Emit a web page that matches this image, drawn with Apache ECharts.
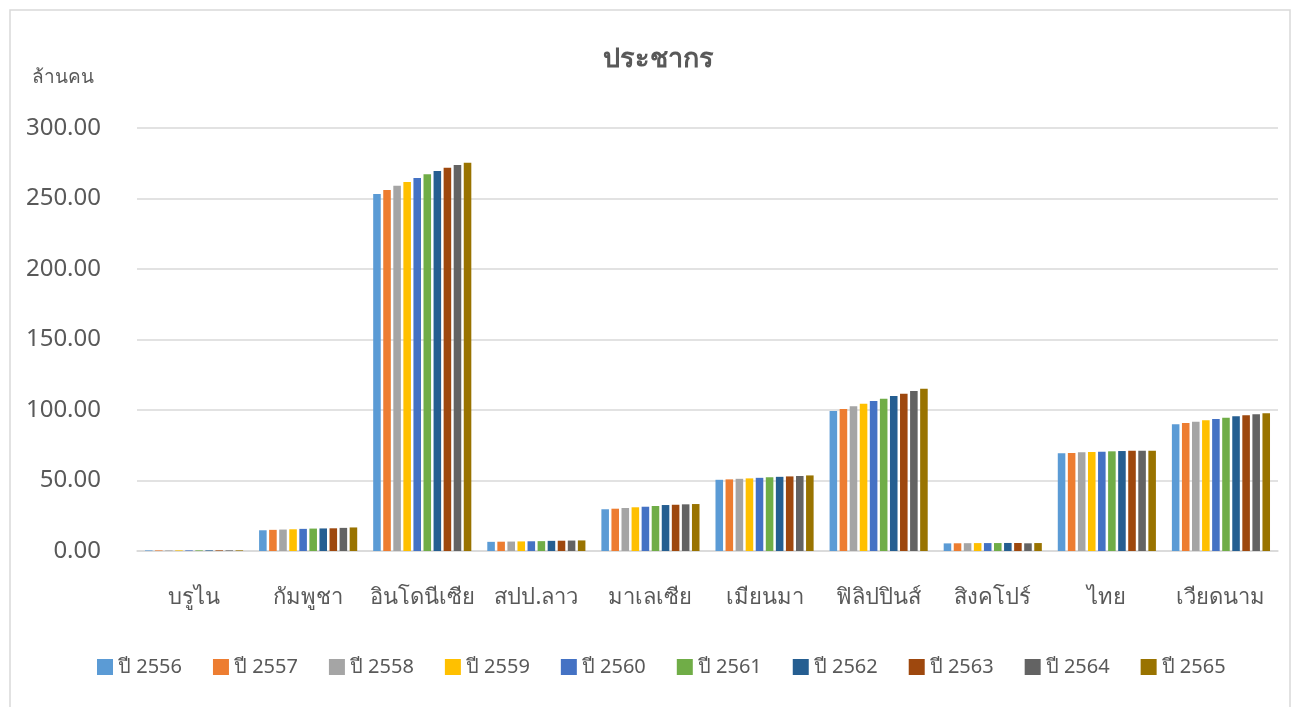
<!DOCTYPE html>
<html>
<head>
<meta charset="utf-8">
<title>ประชากร</title>
<script src="https://cdn.jsdelivr.net/npm/echarts@6/dist/echarts.min.js"></script>
<style>
    html, body {
        margin: 0;
        padding: 0;
        background: #fff;
    }
    #chart {
        width: 1296px;
        height: 707px;
    }
</style>
</head>
<body>
<div id="chart"></div>
<script>
// ประเทศ (หมวดแกน x)
var countries = ['บรูไน', 'กัมพูชา', 'อินโดนีเซีย', 'สปป.ลาว', 'มาเลเซีย', 'เมียนมา', 'ฟิลิปปินส์', 'สิงคโปร์', 'ไทย', 'เวียดนาม'];
var years = ['ปี 2556', 'ปี 2557', 'ปี 2558', 'ปี 2559', 'ปี 2560', 'ปี 2561', 'ปี 2562', 'ปี 2563', 'ปี 2564', 'ปี 2565'];

// ล้านคน, ค่าของแต่ละประเทศเรียงตามปี
var brunei      = [0.41, 0.41, 0.42, 0.42, 0.43, 0.43, 0.44, 0.45, 0.43, 0.44];
var cambodia    = [14.7, 15.0, 15.2, 15.4, 15.7, 15.9, 16.0, 16.1, 16.4, 16.7];
var indonesia   = [253.2, 256.0, 259.1, 261.7, 264.5, 267.2, 269.5, 271.8, 273.8, 275.4];
var laos        = [6.5, 6.6, 6.7, 6.8, 6.9, 7.0, 7.2, 7.3, 7.4, 7.5];
var malaysia    = [29.6, 30.0, 30.5, 31.0, 31.4, 31.9, 32.6, 32.8, 33.1, 33.3];
var myanmar     = [50.5, 50.8, 51.2, 51.5, 51.9, 52.3, 52.6, 52.9, 53.2, 53.6];
var philippines = [99.3, 100.7, 102.6, 104.5, 106.4, 108.0, 109.9, 111.6, 113.5, 115.1];
var singapore   = [5.40, 5.47, 5.54, 5.61, 5.61, 5.64, 5.70, 5.69, 5.45, 5.64];
var thailand    = [69.3, 69.5, 70.0, 70.2, 70.4, 70.7, 70.9, 71.1, 71.1, 71.1];
var vietnam     = [89.9, 90.8, 91.7, 92.7, 93.6, 94.5, 95.5, 96.2, 96.9, 97.7];

var byCountry = [brunei, cambodia, indonesia, laos, malaysia, myanmar, philippines, singapore, thailand, vietnam];
var colors = ['#5B9BD5', '#ED7D31', '#A5A5A5', '#FFC000', '#4472C4', '#70AD47', '#255E91', '#9E480E', '#636363', '#997300'];

var font = 'Tahoma, "Noto Sans", "DejaVu Sans", sans-serif';
var textColor = '#595959';

var series = years.map(function (y, i) {
    return {
        name: y,
        type: 'bar',
        data: byCountry.map(function (c) { return c[i]; }),
        barGap: '33%',
        barCategoryGap: '14%',
        itemStyle: {
            color: colors[i]
        }
    };
});

var myChart = echarts.init(document.getElementById('chart'));
var option = {
    animation: false,
    color: colors,
    textStyle: { fontFamily: font },
    title: [{
        text: 'ประชากร',
        left: 598,
        top: 41,
        textStyle: { fontSize: 27, fontWeight: 'bold', color: textColor, fontFamily: font }
    }, {
        text: 'ล้านคน',
        left: 27,
        top: 63,
        textStyle: { fontSize: 19, fontWeight: 'normal', color: textColor, fontFamily: font }
    }],
    graphic: [{
        type: 'rect',
        shape: { x: 10, y: 10, width: 1280, height: 720 },
        style: { fill: 'none', stroke: '#d9d9d9', lineWidth: 1.5 },
        silent: true
    }],
    legend: {
        data: years,
        top: 652,
        left: 92,
        itemWidth: 16,
        itemHeight: 16,
        itemGap: 31,
        icon: 'rect',
        textStyle: { fontSize: 20, color: textColor, fontFamily: font }
    },
    grid: {
        left: 137,
        right: 18,
        top: 128,
        bottom: 156
    },
    xAxis: {
        type: 'category',
        data: countries,
        axisTick: { show: false },
        axisLine: { lineStyle: { color: '#d9d9d9', width: 1.5 } },
        axisLabel: { interval: 0, fontSize: 22, color: textColor, margin: 36, fontFamily: font }
    },
    yAxis: {
        type: 'value',
        min: 0,
        max: 300,
        interval: 50,
        axisLine: { show: false },
        axisTick: { show: false },
        splitLine: { lineStyle: { color: '#d9d9d9', width: 1.5 } },
        axisLabel: {
            fontSize: 24,
            color: textColor,
            margin: 36,
            fontFamily: font,
            formatter: function (v) { return v.toFixed(2); }
        }
    },
    series: series
};
option && myChart.setOption(option);
</script>
</body>
</html>
